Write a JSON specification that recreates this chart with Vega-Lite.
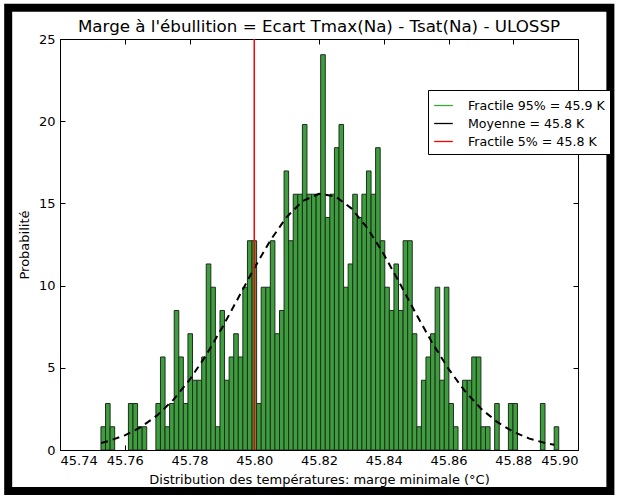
{
  "$schema": "https://vega.github.io/schema/vega-lite/v6.json",
  "width": 518,
  "height": 411,
  "autosize": "none",
  "padding": {"left": 60, "top": 39, "right": 41, "bottom": 47},
  "background": "white",
  "config": {
    "view": {"stroke": "black", "strokeWidth": 1},
    "font": "DejaVu Sans",
    "axis": {"grid": false, "domainColor": "black", "tickColor": "black", "labelColor": "black", "titleColor": "black", "labelFont": "DejaVu Sans", "titleFont": "DejaVu Sans", "labelFontSize": 13, "titleFontSize": 13, "titleFontWeight": "normal", "tickWidth": 1, "domainWidth": 1}
  },
  "title": {"text": "Marge à l'ébullition = Ecart Tmax(Na) - Tsat(Na) - ULOSSP", "fontSize": 16.7, "fontWeight": "normal", "font": "DejaVu Sans", "color": "black", "anchor": "middle", "frame": "group", "offset": -32}, 
  "datasets": {
    "bins": [
      {"x0": 45.75265, "x1": 45.75406, "p": 1.414},
      {"x0": 45.75406, "x1": 45.75548, "p": 2.829},
      {"x0": 45.75548, "x1": 45.75689, "p": 1.414},
      {"x0": 45.76113, "x1": 45.76255, "p": 2.829},
      {"x0": 45.76255, "x1": 45.76396, "p": 2.829},
      {"x0": 45.76396, "x1": 45.76538, "p": 1.414},
      {"x0": 45.76538, "x1": 45.76679, "p": 1.414},
      {"x0": 45.76962, "x1": 45.77103, "p": 2.829},
      {"x0": 45.77103, "x1": 45.77245, "p": 5.658},
      {"x0": 45.77245, "x1": 45.77386, "p": 1.414},
      {"x0": 45.77386, "x1": 45.77528, "p": 2.829},
      {"x0": 45.77528, "x1": 45.77669, "p": 8.487},
      {"x0": 45.77669, "x1": 45.77810, "p": 5.658},
      {"x0": 45.77810, "x1": 45.77952, "p": 2.829},
      {"x0": 45.77952, "x1": 45.78093, "p": 7.072},
      {"x0": 45.78093, "x1": 45.78234, "p": 4.243},
      {"x0": 45.78234, "x1": 45.78376, "p": 4.243},
      {"x0": 45.78376, "x1": 45.78517, "p": 5.658},
      {"x0": 45.78517, "x1": 45.78659, "p": 11.315},
      {"x0": 45.78659, "x1": 45.78800, "p": 9.901},
      {"x0": 45.78800, "x1": 45.78942, "p": 1.414},
      {"x0": 45.78942, "x1": 45.79083, "p": 8.487},
      {"x0": 45.79083, "x1": 45.79224, "p": 4.243},
      {"x0": 45.79224, "x1": 45.79366, "p": 5.658},
      {"x0": 45.79366, "x1": 45.79507, "p": 7.072},
      {"x0": 45.79507, "x1": 45.79648, "p": 5.658},
      {"x0": 45.79648, "x1": 45.79790, "p": 9.901},
      {"x0": 45.79790, "x1": 45.79931, "p": 12.730},
      {"x0": 45.79931, "x1": 45.80073, "p": 12.730},
      {"x0": 45.80073, "x1": 45.80214, "p": 2.829},
      {"x0": 45.80214, "x1": 45.80356, "p": 9.901},
      {"x0": 45.80356, "x1": 45.80497, "p": 9.901},
      {"x0": 45.80497, "x1": 45.80638, "p": 12.730},
      {"x0": 45.80638, "x1": 45.80780, "p": 7.072},
      {"x0": 45.80780, "x1": 45.80921, "p": 8.487},
      {"x0": 45.80921, "x1": 45.81062, "p": 16.973},
      {"x0": 45.81062, "x1": 45.81204, "p": 12.730},
      {"x0": 45.81204, "x1": 45.81345, "p": 15.559},
      {"x0": 45.81345, "x1": 45.81487, "p": 15.559},
      {"x0": 45.81487, "x1": 45.81628, "p": 19.802},
      {"x0": 45.81628, "x1": 45.81770, "p": 15.559},
      {"x0": 45.81770, "x1": 45.81911, "p": 15.559},
      {"x0": 45.81911, "x1": 45.82052, "p": 15.559},
      {"x0": 45.82052, "x1": 45.82194, "p": 24.045},
      {"x0": 45.82194, "x1": 45.82335, "p": 14.144},
      {"x0": 45.82335, "x1": 45.82476, "p": 15.559},
      {"x0": 45.82476, "x1": 45.82618, "p": 18.388},
      {"x0": 45.82618, "x1": 45.82759, "p": 19.802},
      {"x0": 45.82759, "x1": 45.82901, "p": 9.901},
      {"x0": 45.82901, "x1": 45.83042, "p": 11.315},
      {"x0": 45.83042, "x1": 45.83184, "p": 15.559},
      {"x0": 45.83184, "x1": 45.83325, "p": 14.144},
      {"x0": 45.83325, "x1": 45.83466, "p": 15.559},
      {"x0": 45.83466, "x1": 45.83608, "p": 16.973},
      {"x0": 45.83608, "x1": 45.83749, "p": 15.559},
      {"x0": 45.83749, "x1": 45.83890, "p": 18.388},
      {"x0": 45.83890, "x1": 45.84032, "p": 12.730},
      {"x0": 45.84032, "x1": 45.84173, "p": 9.901},
      {"x0": 45.84173, "x1": 45.84315, "p": 8.487},
      {"x0": 45.84315, "x1": 45.84456, "p": 11.315},
      {"x0": 45.84456, "x1": 45.84598, "p": 8.487},
      {"x0": 45.84598, "x1": 45.84739, "p": 12.730},
      {"x0": 45.84739, "x1": 45.84880, "p": 12.730},
      {"x0": 45.84880, "x1": 45.85022, "p": 7.072},
      {"x0": 45.85022, "x1": 45.85163, "p": 1.414},
      {"x0": 45.85163, "x1": 45.85304, "p": 4.243},
      {"x0": 45.85304, "x1": 45.85446, "p": 5.658},
      {"x0": 45.85446, "x1": 45.85587, "p": 7.072},
      {"x0": 45.85587, "x1": 45.85729, "p": 9.901},
      {"x0": 45.85729, "x1": 45.85870, "p": 4.243},
      {"x0": 45.85870, "x1": 45.86012, "p": 9.901},
      {"x0": 45.86012, "x1": 45.86153, "p": 2.829},
      {"x0": 45.86153, "x1": 45.86294, "p": 1.414},
      {"x0": 45.86436, "x1": 45.86577, "p": 4.243},
      {"x0": 45.86577, "x1": 45.86718, "p": 4.243},
      {"x0": 45.86718, "x1": 45.86860, "p": 5.658},
      {"x0": 45.86860, "x1": 45.87001, "p": 5.658},
      {"x0": 45.87001, "x1": 45.87143, "p": 1.414},
      {"x0": 45.87143, "x1": 45.87284, "p": 1.414},
      {"x0": 45.87426, "x1": 45.87567, "p": 2.829},
      {"x0": 45.87850, "x1": 45.87991, "p": 2.829},
      {"x0": 45.87991, "x1": 45.88132, "p": 2.829},
      {"x0": 45.88839, "x1": 45.88981, "p": 2.829},
      {"x0": 45.89264, "x1": 45.89405, "p": 1.414}
    ],
    "gauss": [
      {"x": 45.7527, "pdf": 0.431},
      {"x": 45.755, "pdf": 0.547},
      {"x": 45.760, "pdf": 0.890},
      {"x": 45.765, "pdf": 1.395},
      {"x": 45.770, "pdf": 2.103},
      {"x": 45.775, "pdf": 3.050},
      {"x": 45.780, "pdf": 4.260},
      {"x": 45.785, "pdf": 5.727},
      {"x": 45.790, "pdf": 7.411},
      {"x": 45.795, "pdf": 9.229},
      {"x": 45.800, "pdf": 11.06},
      {"x": 45.805, "pdf": 12.76},
      {"x": 45.810, "pdf": 14.17},
      {"x": 45.815, "pdf": 15.15},
      {"x": 45.820, "pdf": 15.58},
      {"x": 45.825, "pdf": 15.43},
      {"x": 45.830, "pdf": 14.70},
      {"x": 45.835, "pdf": 13.49},
      {"x": 45.840, "pdf": 11.91},
      {"x": 45.845, "pdf": 10.12},
      {"x": 45.850, "pdf": 8.273},
      {"x": 45.855, "pdf": 6.512},
      {"x": 45.860, "pdf": 4.933},
      {"x": 45.865, "pdf": 3.597},
      {"x": 45.870, "pdf": 2.524},
      {"x": 45.875, "pdf": 1.705},
      {"x": 45.880, "pdf": 1.109},
      {"x": 45.885, "pdf": 0.694},
      {"x": 45.890, "pdf": 0.418},
      {"x": 45.8927, "pdf": 0.313}
    ],
    "lines": [
      {"serie": "Fractile 5% = 45.8 K", "x": 45.80}
    ]
  },
  "layer": [
    {
      "data": {"name": "bins"},
      "mark": {"type": "rect", "fill": "#3e9e3e", "stroke": "#1e2e1e", "strokeWidth": 1, "clip": true},
      "encoding": {
        "x": {"field": "x0", "type": "quantitative", "scale": {"domain": [45.74, 45.9], "nice": false, "zero": false},
              "axis": {"orient": "bottom", "values": [45.74, 45.76, 45.78, 45.80, 45.82, 45.84, 45.86, 45.88, 45.90], "format": ".2f", "title": "Distribution des températures: marge minimale (°C)", "ticks": false, "domain": false, "labelPadding": 4, "titlePadding": 6}},
        "x2": {"field": "x1"},
        "y": {"field": "p", "type": "quantitative", "scale": {"domain": [0, 25], "nice": false},
              "axis": {"orient": "left", "values": [0, 5, 10, 15, 20, 25], "title": "Probabilité", "ticks": false, "domain": false, "labelPadding": 5, "titlePadding": 7}},
        "y2": {"datum": 0}
      }
    },
    {
      "data": {"name": "gauss"},
      "mark": {"type": "line", "color": "black", "strokeWidth": 2, "strokeDash": [7, 5], "clip": true},
      "encoding": {
        "x": {"field": "x", "type": "quantitative",
              "axis": {"orient": "top", "offset": -411, "values": [45.74, 45.76, 45.78, 45.80, 45.82, 45.84, 45.86, 45.88, 45.90], "labels": false, "title": null, "domain": false, "tickSize": 5}},
        "y": {"field": "pdf", "type": "quantitative",
              "axis": {"orient": "right", "offset": -518, "values": [0, 5, 10, 15, 20, 25], "labels": false, "title": null, "domain": false, "tickSize": 5}}
      }
    },
    {
      "data": {"name": "lines"},
      "mark": {"type": "rule", "strokeWidth": 1.5, "clip": true},
      "encoding": {
        "x": {"field": "x", "type": "quantitative",
              "axis": {"orient": "bottom", "offset": -411, "values": [45.74, 45.76, 45.78, 45.80, 45.82, 45.84, 45.86, 45.88, 45.90], "labels": false, "title": null, "domain": false, "tickSize": 5}},
        "color": {"field": "serie", "type": "nominal",
                  "scale": {"domain": ["Fractile 95% = 45.9 K", "Moyenne = 45.8 K", "Fractile 5% = 45.8 K"], "range": ["#3aa83a", "#000000", "#ff0000"]},
                  "legend": {"orient": "none", "legendX": 368, "legendY": 51, "title": null, "symbolType": "stroke", "symbolStrokeWidth": 1.3, "symbolSize": 350, "labelFontSize": 12.6, "labelFont": "DejaVu Sans", "labelColor": "black", "strokeColor": "black", "fillColor": "white", "padding": 5, "rowPadding": 0, "labelOffset": 14, "cornerRadius": 0}}
      }
    },
    {
      "data": {"name": "gauss"},
      "mark": {"type": "point", "opacity": 0},
      "encoding": {
        "y": {"field": "pdf", "type": "quantitative",
              "axis": {"orient": "left", "offset": -518, "values": [0, 5, 10, 15, 20, 25], "labels": false, "title": null, "domain": false, "tickSize": 5}}
      }
    },
    {
      "data": {"values": [{}]},
      "mark": {"type": "rect", "fillOpacity": 0, "stroke": "black", "strokeWidth": 8, "clip": false},
      "encoding": {
        "x": {"datum": 45.7240, "type": "quantitative", "axis": null},
        "x2": {"datum": 45.9100},
        "y": {"datum": 26.9, "type": "quantitative", "axis": null},
        "y2": {"datum": -2.5}
      }
    }
  ],
  "resolve": {"axis": {"x": "independent", "y": "independent"}}
}
